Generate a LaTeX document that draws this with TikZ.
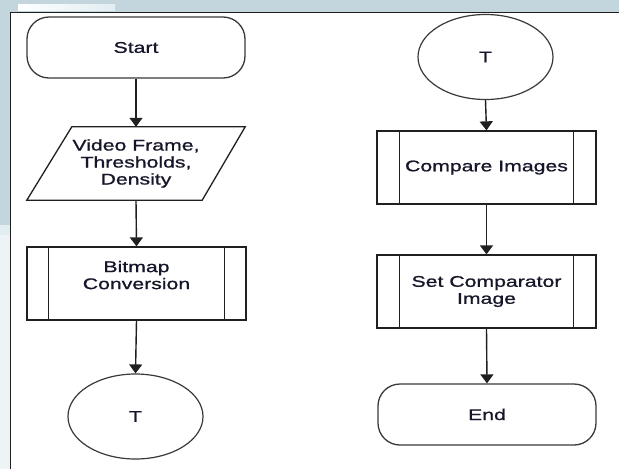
\documentclass[tikz,border=0pt]{standalone}
\usepackage{fontspec}
\setmainfont{Liberation Sans}[FakeStretch=1.37, FakeBold=0.9]
\usetikzlibrary{shapes.geometric,arrows.meta}
\definecolor{chrome}{HTML}{C4D6DD}
\definecolor{chromelight}{HTML}{E2EDF1}
\definecolor{chromepale}{HTML}{EEF4F6}
\definecolor{ink}{HTML}{202020}
\definecolor{soft}{HTML}{3A3A3A}
\definecolor{txt}{HTML}{16162A}
\begin{document}
\begin{tikzpicture}[x=1pt,y=-1pt,
  every node/.style={font=\fontsize{15.5}{17}\selectfont, text=txt, align=center, inner sep=0pt},
  shapeline/.style={draw=ink, line width=1.3pt},
  terminal/.style={draw=soft, line width=1.3pt, rectangle, rounded corners=22pt, minimum width=218pt, minimum height=61pt},
  connector/.style={draw=soft, line width=1.2pt, ellipse, minimum width=135pt, minimum height=85pt},
  procbox/.style={shapeline, rectangle, minimum width=219pt, minimum height=73pt},
  iobox/.style={rectangle, minimum width=218pt, minimum height=73pt},
  flow/.style={draw=ink, line width=1.4pt, -{Triangle[width=13pt,length=9pt]}}
]
% window chrome behind the page
\useasboundingbox (0,0) rectangle (619,469);
\fill[white] (0,0) rectangle (619,469);
\fill[chrome] (0,0) rectangle (619,12);
\fill[chrome] (0,0) rectangle (10,225);
\fill[chromelight] (0,225) rectangle (10,235);
\fill[chromepale] (0,235) rectangle (10,469);
\shade[left color=white, right color=chromelight] (18,4) rectangle (115,10);
% page edge
\draw[ink, line width=1.5pt] (10.5,469) -- (10.5,12.5) -- (619,12.5);

% left column
\node[terminal] (start) at (136,47.5) {Start};
\node[iobox] (input) at (136,163.5) {Video Frame,\\Thresholds,\\Density};
\draw[shapeline, line join=miter] ([xshift=45pt]input.north west) -- (input.north east)
  -- ([xshift=-43pt]input.south east) -- (input.south west) -- cycle;
\node[procbox] (bitmap) at (136.5,283.5) {Bitmap\\Conversion\\\mbox{}};
\node[connector] (tout) at (135.5,416.5) {T};

% right column
\node[connector] (tin) at (485.5,57) {T};
\node[procbox] (compare) at (486.5,167.5) {Compare Images};
\node[procbox] (setcmp) at (486.5,291.5) {Set Comparator\\Image};
\node[terminal] (finish) at (487,414.5) {End};

% side bars of the predefined-process boxes
\foreach \b/\d in {bitmap/22, compare/23, setcmp/23}{
  \draw[shapeline] ([xshift=\d pt]\b.north west) -- ([xshift=\d pt]\b.south west);
  \draw[shapeline] ([xshift=-\d pt]\b.north east) -- ([xshift=-\d pt]\b.south east);
}

% flow
\draw[flow] (start.south) -- (input.north);
\draw[flow] (input.south) -- (bitmap.north);
\draw[flow] (bitmap.south) -- (tout.north);
\draw[flow] (tin.south) -- (compare.north);
\draw[flow] (compare.south) -- (setcmp.north);
\draw[flow] (setcmp.south) -- (finish.north);
\end{tikzpicture}
\end{document}
